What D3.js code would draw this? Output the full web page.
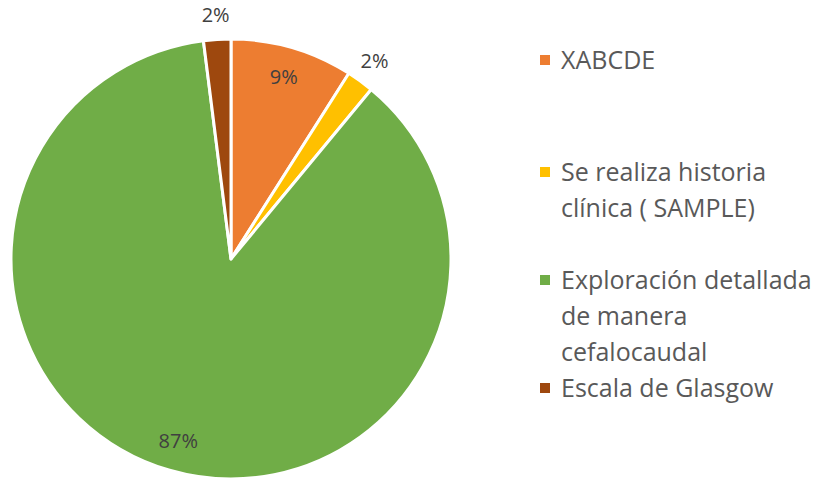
<!DOCTYPE html>
<html lang="es">
<head>
<meta charset="UTF-8">
<title>Pie</title>
<style>
  body { margin: 0; background: #fff; }
  svg { display: block; font-family: "Open Sans", "Lato", sans-serif; }
</style>
</head>
<body>
<svg id="chart"></svg>
<script src="https://cdn.jsdelivr.net/npm/d3@7"></script>
<script>
const categories = ["XABCDE", "Se realiza historia clínica ( SAMPLE)", "Exploración detallada de manera cefalocaudal", "Escala de Glasgow"];
const values = [9, 2, 87, 2];
const colors = ["#ED7D31", "#FFC000", "#70AD47", "#9E480E"];
// legend lines as wrapped in the picture
const legendLines = [["XABCDE"], ["Se realiza historia", "clínica ( SAMPLE)"], ["Exploración detallada", "de manera", "cefalocaudal"], ["Escala de Glasgow"]];
const legendTop = [60, 172, 280, 388];
const insideLabel = [true, false, true, false];

const width = 819, height = 480;
const cx = 231, cy = 259, R = 220;

const svg = d3.select("#chart").attr("width", width).attr("height", height);

const data = categories.map((c, i) => ({ name: c, value: values[i], color: colors[i], inside: insideLabel[i] }));
const pie = d3.pie().value(d => d.value).sort(null);
const arcs = pie(data);

const arc = d3.arc().innerRadius(0).outerRadius(R);
const inArc = d3.arc().innerRadius(R * 0.86).outerRadius(R * 0.86);
const outArc = d3.arc().innerRadius(R * 1.11).outerRadius(R * 1.11);

const g = svg.append("g").attr("transform", `translate(${cx},${cy})`);

g.selectAll("path")
  .data(arcs)
  .enter().append("path")
  .attr("d", arc)
  .attr("fill", d => d.data.color)
  .attr("stroke", "#fff")
  .attr("stroke-width", 3)
  .attr("stroke-linejoin", "round");

g.selectAll("text.lbl")
  .data(arcs)
  .enter().append("text")
  .attr("class", "lbl")
  .attr("transform", d => `translate(${(d.data.inside ? inArc : outArc).centroid(d)})`)
  .attr("text-anchor", "middle")
  .attr("dy", "0.35em")
  .attr("font-size", 20)
  .attr("fill", "#404040")
  .text(d => d.data.value + "%");

const legend = svg.append("g");
const lineH = 36;
data.forEach((d, i) => {
  const item = legend.append("g").attr("transform", `translate(540,${legendTop[i]})`);
  item.append("rect")
    .attr("x", 0).attr("y", -5)
    .attr("width", 10).attr("height", 10)
    .attr("fill", d.color);
  legendLines[i].forEach((line, j) => {
    item.append("text")
      .attr("x", 21)
      .attr("y", j * lineH)
      .attr("dy", "0.35em")
      .attr("font-size", 25)
      .attr("fill", "#595959")
      .text(line);
  });
});
</script>
</body>
</html>
